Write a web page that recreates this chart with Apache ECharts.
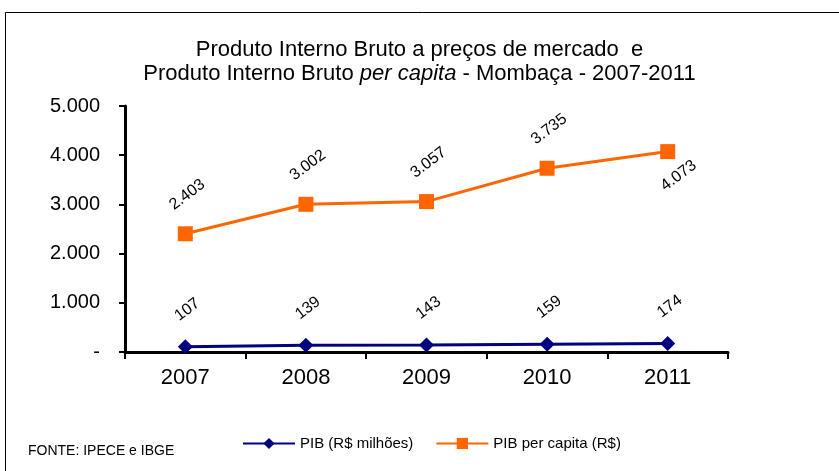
<!DOCTYPE html>
<html>
<head>
<meta charset="utf-8">
<script src="https://cdn.jsdelivr.net/npm/echarts@6/dist/echarts.min.js"></script>
<style>
  html, body { margin: 0; padding: 0; background: #fff; }
  #chart { width: 839px; height: 471px; }
</style>
</head>
<body>
<div id="chart"></div>
<script>
// dados do gráfico
var anos = ['2007', '2008', '2009', '2010', '2011'];
var pibMilhoes = [107, 139, 143, 159, 174];
var pibPerCapita = [2403, 3002, 3057, 3735, 4073];
var yTicks = [0, 1000, 2000, 3000, 4000, 5000];

var fontFam = '"Liberation Sans", Arial, sans-serif';
var rot = 37;

// separador de milhar brasileiro
function fmt(v) {
    return String(v).replace(/\B(?=(\d{3})+(?!\d))/g, '.');
}

// o offset do rótulo é aplicado já rotacionado, então converte o deslocamento de tela
function offTela(dx, dy) {
    var t = rot * Math.PI / 180;
    return [dx * Math.cos(t) - dy * Math.sin(t), dx * Math.sin(t) + dy * Math.cos(t)];
}

var chart = echarts.init(document.getElementById('chart'));

var labelBase = {
    show: true,
    position: 'inside',
    rotate: rot,
    align: 'center',
    verticalAlign: 'middle',
    fontFamily: fontFam,
    fontSize: 16,
    color: '#000',
    formatter: function (p) { return fmt(p.value); }
};

// último ponto do per capita tem o rótulo abaixo
var perCapitaData = pibPerCapita.map(function (v, i) {
    if (i === pibPerCapita.length - 1) {
        return { value: v, label: { offset: offTela(11, 24) } };
    }
    return v;
});

var option = {
    backgroundColor: '#fff',
    animation: false,
    title: {
        left: 'center',
        top: 33,
        text: '{a|Produto Interno Bruto a preços de mercado  e}\n{a|Produto Interno Bruto }{i|per capita}{a| - Mombaça - 2007-2011}',
        textStyle: {
            rich: {
                a: { fontFamily: fontFam, fontSize: 22, fontWeight: 'normal', color: '#000', lineHeight: 24 },
                i: { fontFamily: fontFam, fontSize: 22, fontWeight: 'normal', fontStyle: 'italic', color: '#000', lineHeight: 24 }
            }
        }
    },
    legend: {
        left: 237,
        top: 431,
        itemWidth: 52,
        itemHeight: 14,
        itemGap: 22,
        textStyle: { fontFamily: fontFam, fontSize: 15, color: '#000' },
        data: ['PIB (R$ milhões)', 'PIB per capita (R$)']
    },
    grid: {
        left: 125,
        right: 111,
        top: 106,
        bottom: 119,
        containLabel: false
    },
    xAxis: {
        type: 'category',
        data: anos,
        boundaryGap: true,
        axisLine: { lineStyle: { color: '#000', width: 3 } },
        axisTick: { show: true, length: 7, lineStyle: { color: '#000', width: 2 } },
        axisLabel: { fontFamily: fontFam, fontSize: 22, color: '#000', margin: 15 }
    },
    yAxis: {
        type: 'value',
        min: 0,
        max: 5000,
        interval: 1000,
        splitLine: { show: false },
        axisLine: { show: true, lineStyle: { color: '#000', width: 3 } },
        axisTick: { show: true, length: 6, lineStyle: { color: '#000', width: 2 } },
        axisLabel: {
            fontFamily: fontFam,
            fontSize: 20,
            color: '#000',
            margin: 25,
            formatter: function (v) { return v === 0 ? '-' : fmt(v); }
        }
    },
    series: [
        {
            name: 'PIB (R$ milhões)',
            type: 'line',
            data: pibMilhoes,
            symbol: 'diamond',
            symbolSize: 15,
            itemStyle: { color: '#000080' },
            lineStyle: { color: '#000080', width: 3 },
            label: Object.assign({}, labelBase, { offset: offTela(2, -37) }),
            z: 3
        },
        {
            name: 'PIB per capita (R$)',
            type: 'line',
            data: perCapitaData,
            symbol: 'rect',
            symbolSize: 15,
            itemStyle: { color: '#FF6600' },
            lineStyle: { color: '#FF6600', width: 3 },
            label: Object.assign({}, labelBase, { offset: offTela(2, -39) }),
            z: 4
        }
    ],
    graphic: [
        {
            type: 'rect',
            shape: { x: 5.5, y: 12.5, width: 900, height: 600 },
            style: { fill: 'none', stroke: '#000', lineWidth: 1 },
            silent: true
        },
        {
            type: 'text',
            left: 28,
            top: 444,
            style: { text: 'FONTE: IPECE e IBGE', fontFamily: fontFam, fontSize: 14, fill: '#000' }
        }
    ]
};

chart.setOption(option);
</script>
</body>
</html>
